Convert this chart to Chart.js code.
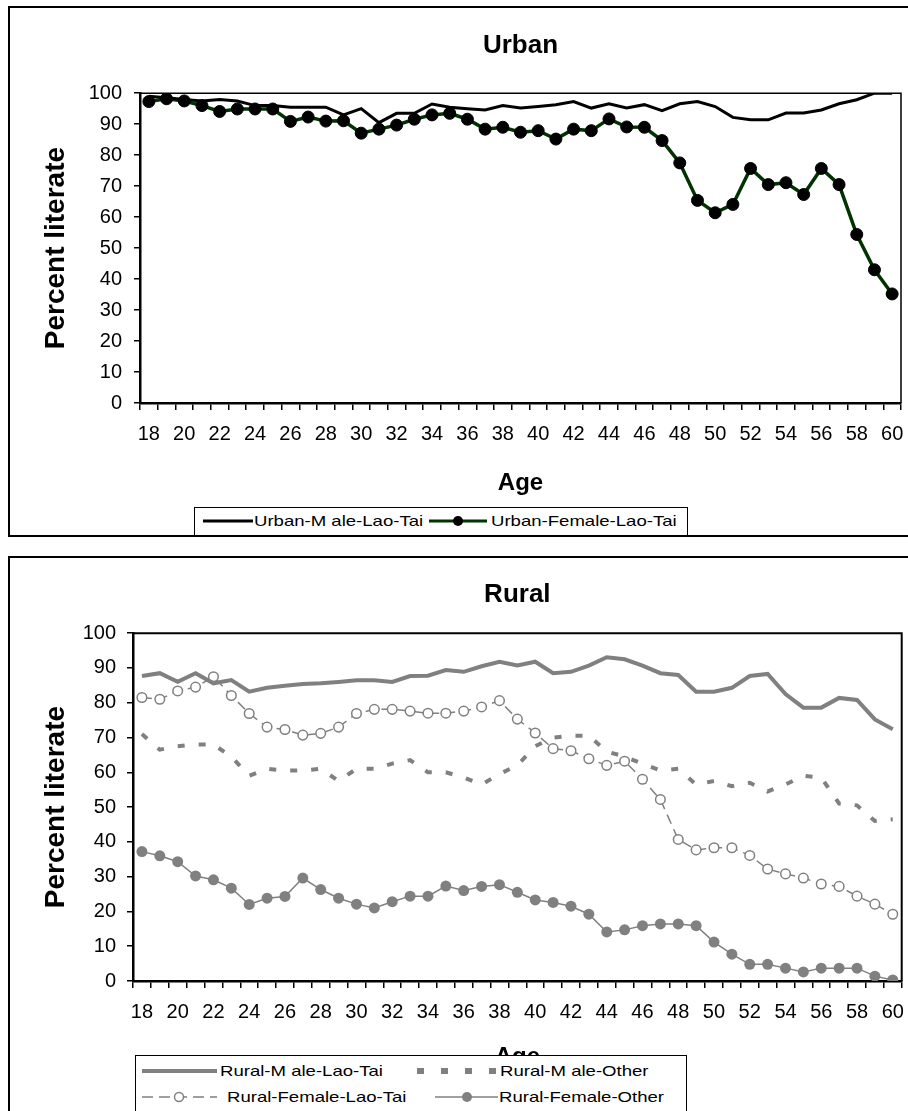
<!DOCTYPE html>
<html><head><meta charset="utf-8">
<script src="https://cdn.jsdelivr.net/npm/chart.js@4.4.1/dist/chart.umd.min.js"></script>
<style>
html,body{margin:0;padding:0;background:#fff;width:908px;height:1111px;overflow:hidden;font-family:"Liberation Sans",Arial,sans-serif;}
.frame{position:absolute;border:2px solid #000;box-sizing:border-box;pointer-events:none;}
.cv{position:absolute;left:0;}
.legend{position:absolute;border:1.5px solid #000;background:#fff;box-sizing:border-box;font-size:14.5px;color:#000;}
.item{position:absolute;white-space:pre;line-height:18px;display:inline-block;transform:scaleX(1.28);transform-origin:0 50%;}
svg{position:absolute;overflow:visible;}
</style></head><body>
<div class="cv" style="top:0;"><canvas id="urban" width="908" height="537"></canvas></div>
<div class="frame" style="left:8px;top:6px;width:940px;height:531px"></div>
<div class="cv" style="top:556px;"><canvas id="rural" width="908" height="555"></canvas></div>
<div class="frame" style="left:8px;top:556px;width:940px;height:600px"></div>

<div class="legend" style="left:194px;top:507px;width:494px;height:29px;">
  <svg style="left:8px;top:11px" width="50" height="4"><line x1="0" y1="2" x2="50" y2="2" stroke="#000" stroke-width="3"/></svg>
  <div class="item" style="left:59px;top:4px">Urban-M ale-Lao-Tai</div>
  <svg style="left:234px;top:11px" width="58" height="4"><line x1="0" y1="2" x2="58" y2="2" stroke="#003300" stroke-width="3"/><circle cx="29" cy="2" r="5" fill="#000"/></svg>
  <div class="item" style="left:296px;top:4px">Urban-Female-Lao-Tai</div>
</div>

<div class="legend" style="left:135px;top:1055px;width:552px;height:70px;">
  <svg style="left:6px;top:13px" width="75" height="4"><line x1="0" y1="2" x2="75" y2="2" stroke="#808080" stroke-width="4"/></svg>
  <div class="item" style="left:84px;top:6px">Rural-M ale-Lao-Tai</div>
  <svg style="left:281px;top:13px" width="82" height="4"><line x1="0" y1="2" x2="82" y2="2" stroke="#808080" stroke-width="6" stroke-dasharray="7,17"/></svg>
  <div class="item" style="left:364px;top:6px">Rural-M ale-Other</div>
  <svg style="left:6px;top:39px" width="75" height="4"><line x1="0" y1="2" x2="75" y2="2" stroke="#808080" stroke-width="1.5" stroke-dasharray="11,6"/><circle cx="37" cy="2" r="4.5" fill="#fff" stroke="#808080" stroke-width="1.5"/></svg>
  <div class="item" style="left:91px;top:32px">Rural-Female-Lao-Tai</div>
  <svg style="left:299px;top:39px" width="63" height="4"><line x1="0" y1="2" x2="63" y2="2" stroke="#808080" stroke-width="1.5"/><circle cx="32" cy="2" r="5" fill="#808080"/></svg>
  <div class="item" style="left:363px;top:32px">Rural-Female-Other</div>
</div>

<script>
const ages = ['18','19','20','21','22','23','24','25','26','27','28','29','30','31','32','33','34','35','36','37','38','39','40','41','42','43','44','45','46','47','48','49','50','51','52','53','54','55','56','57','58','59','60'];
const yTicks = [0,10,20,30,40,50,60,70,80,90,100];

const urbanMaleLaoTai = [99,98.5,98,97.5,98,97.5,96,96,95.5,95.5,95.5,93,95,90.5,93.5,93.5,96.5,95.5,95,94.6,96,
  95.2,95.7,96.3,97.3,95.2,96.6,95.2,96.3,94.4,96.6,97.3,95.7,92.2,91.4,91.4,93.6,93.6,94.6,96.6,97.9,100,100];
const urbanFemaleLaoTai = [97.3,98.2,97.5,96,94.1,94.9,94.9,94.9,90.9,92.3,91,91.1,87.1,88.4,89.7,91.6,93,93.5,91.6,88.4,89,
  87.4,87.9,85.2,88.4,87.9,91.7,89.1,89,84.7,77.5,65.4,61.4,64.1,75.7,70.5,71.1,67.3,75.7,70.5,54.4,43,35.2];

const ruralMaleLaoTai = [87.7,88.5,86,88.5,85.6,86.5,83.2,84.3,84.9,85.4,85.6,86,86.5,86.5,86,87.7,87.8,89.4,88.9,90.5,91.8,
  90.7,91.8,88.5,88.9,90.7,93.1,92.5,90.7,88.5,88,83.2,83.2,84.3,87.7,88.3,82.5,78.6,78.6,81.4,80.8,75.2,72.4];
const ruralMaleOther = [71,66.5,67.5,68,68,64.5,59,61,60.5,60.5,61,57.5,61,61,62.5,63.5,60,60,58.5,56.5,59.5,
  62,67.5,70,70.5,70.5,66,64.5,62.5,60.5,61,56.5,57.5,56,57,54.5,56.5,59,58.5,51,50.5,46,46.5];
const ruralFemaleLaoTai = [81.5,81,83.4,84.5,87.5,82.1,76.9,73,72.3,70.7,71.2,73,76.9,78.1,78.1,77.6,77,77,77.6,78.8,80.6,
  75.3,71.3,66.8,66.2,63.9,62,63.2,58,52.2,40.7,37.7,38.3,38.3,36.1,32.2,30.8,29.6,27.9,27.2,24.4,22.1,19.2];
const ruralFemaleOther = [37.2,36,34.3,30.2,29.1,26.7,22,23.8,24.3,29.6,26.3,23.8,22.1,21,22.8,24.4,24.4,27.3,26,27.2,27.7,
  25.5,23.3,22.6,21.5,19.2,14.1,14.7,15.9,16.4,16.4,15.9,11.2,7.7,4.8,4.8,3.7,2.6,3.7,3.7,3.7,1.4,0.3];

Chart.defaults.font.family = "'Liberation Sans', Arial, sans-serif";
Chart.defaults.color = '#000';
Chart.defaults.animation = false;

const plotBorder = {
  id: 'plotBorder',
  afterDatasetsDraw(chart, args, opts) {
    const {ctx, chartArea: a} = chart;
    ctx.save();
    ctx.strokeStyle = '#000';
    ctx.lineWidth = opts.width || 1.5;
    ctx.beginPath();
    ctx.moveTo(a.left, a.top); ctx.lineTo(a.right, a.top); ctx.lineTo(a.right, a.bottom);
    ctx.stroke();
    ctx.restore();
  }
};

function makeScales(cfg) {
  return {
    x: {
      type: 'category', offset: true,
      grid: { display: true, drawOnChartArea: false, drawTicks: true, tickLength: 7, offset: true, color: '#000', lineWidth: 1.5 },
      border: { display: true, color: '#000', width: 2.5 },
      ticks: { autoSkip: false, maxRotation: 0, minRotation: 0, padding: cfg.xPad, font: { size: 20 }, color: '#000',
        callback: function(v, i) { return i % 2 === 0 ? this.getLabelForValue(v) : ''; } },
      title: { display: true, text: 'Age', font: { size: 24, weight: 'bold' }, color: '#000', padding: { top: 0, bottom: cfg.ageBottom } },
      afterFit: s => { s.height = cfg.xHeight; s.paddingLeft = 0; s.paddingRight = 0; }
    },
    y: {
      min: 0, max: 100,
      afterBuildTicks: s => { s.ticks = yTicks.map(v => ({ value: v })); },
      grid: { display: true, drawOnChartArea: false, drawTicks: true, tickLength: 6, color: '#000', lineWidth: 1.5 },
      border: { display: true, color: '#000', width: 2.5 },
      ticks: { padding: cfg.yPad, font: { size: 20 }, color: '#000' },
      title: { display: true, text: 'Percent literate', font: { size: 28, weight: 'bold' }, color: '#000', padding: { top: cfg.yTitlePad, bottom: 0 } },
      afterFit: s => { s.width = cfg.yWidth; s.paddingTop = 0; s.paddingBottom = 0; }
    }
  };
}

new Chart(document.getElementById('urban'), {
  type: 'line',
  data: {
    labels: ages,
    datasets: [
      { label: 'Urban-Male-Lao-Tai', data: urbanMaleLaoTai, borderColor: '#000', borderWidth: 3, pointRadius: 0, tension: 0 },
      { label: 'Urban-Female-Lao-Tai', data: urbanFemaleLaoTai, borderColor: '#003300', borderWidth: 3.5, pointRadius: 6,
        pointBackgroundColor: '#000', pointBorderColor: '#000', pointBorderWidth: 1, tension: 0 }
    ]
  },
  options: {
    responsive: false,
    layout: { padding: { left: 8, right: 7, top: 10, bottom: 0 } },
    plugins: {
      legend: { display: false }, tooltip: { enabled: false },
      title: { display: true, text: 'Urban', fullSize: false, font: { size: 26, weight: 'bold' }, color: '#000', padding: { top: 20, bottom: 32 } },
      plotBorder: { width: 1.5 }
    },
    scales: makeScales({ xPad: 12, xHeight: 134, ageBottom: 39, yPad: 12, yWidth: 132, yTitlePad: 31 })
  },
  plugins: [plotBorder]
});

new Chart(document.getElementById('rural'), {
  type: 'line',
  data: {
    labels: ages,
    datasets: [
      { label: 'Rural-Male-Lao-Tai', data: ruralMaleLaoTai, borderColor: '#808080', borderWidth: 4, pointRadius: 0, tension: 0 },
      { label: 'Rural-Male-Other', data: ruralMaleOther, borderColor: '#808080', borderWidth: 4, borderDash: [7, 14], borderCapStyle: 'butt', pointRadius: 0, tension: 0 },
      { label: 'Rural-Female-Lao-Tai', data: ruralFemaleLaoTai, borderColor: '#808080', borderWidth: 1.5, borderDash: [10, 6], pointRadius: 4.8,
        pointBackgroundColor: '#fff', pointBorderColor: '#808080', pointBorderWidth: 1.5, tension: 0 },
      { label: 'Rural-Female-Other', data: ruralFemaleOther, borderColor: '#808080', borderWidth: 1.5, pointRadius: 5.5,
        pointBackgroundColor: '#808080', pointBorderColor: '#808080', pointBorderWidth: 0, tension: 0 }
    ]
  },
  options: {
    responsive: false,
    layout: { padding: { left: 8, right: 5, top: 0, bottom: 0 } },
    plugins: {
      legend: { display: false }, tooltip: { enabled: false },
      title: { display: true, text: 'Rural', fullSize: false, font: { size: 26, weight: 'bold' }, color: '#000', padding: { top: 23, bottom: 23 } },
      plotBorder: { width: 2 }
    },
    scales: makeScales({ xPad: 12, xHeight: 130, ageBottom: 39, yPad: 11, yWidth: 125, yTitlePad: 31 })
  },
  plugins: [plotBorder]
});
</script>
</body></html>
